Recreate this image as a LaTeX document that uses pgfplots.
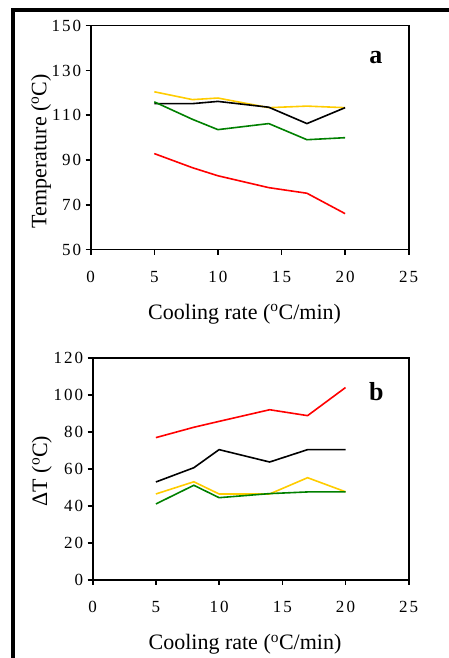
\documentclass[border=0pt]{standalone}
\usepackage{fontspec}
\setmainfont{Liberation Serif}
\usepackage{pgfplots}
\pgfplotsset{compat=1.18}
\definecolor{cyellow}{RGB}{255,204,0}
\definecolor{cgreen}{RGB}{0,128,0}
\definecolor{cred}{RGB}{255,0,0}
\pgfplotsset{common/.style={
  scale only axis,
  xmin=0,xmax=25,
  xtick={0,5,...,25},
  axis line style={line width=1.6pt},
  xtick pos=bottom, ytick pos=left,
  tick align=outside,
  major tick length=5pt,
  tick style={line width=1.6pt, black},
  /pgf/number format/assume math mode=true,
  tick label style={font=\fontsize{17}{17}\selectfont\addfontfeature{LetterSpace=12}},
  xticklabel style={yshift=-13pt},
  yticklabel style={xshift=-1pt},
  label style={font=\fontsize{22}{22}\selectfont},
  every axis plot/.append style={line width=1.6pt, no marks},
}}
\begin{document}
\begin{tikzpicture}
\useasboundingbox (0pt,0pt) rectangle (449pt,658pt);
\draw[line width=4pt] (13pt,0pt) -- (13pt,649.75pt);
\draw[line width=3.5pt] (11pt,648pt) -- (449pt,648pt);
% Panel a
\begin{axis}[common,
  at={(90.7pt,408.3pt)}, anchor=south west,
  width=318pt, height=224pt,
  ymin=50, ymax=150, ytick={50,70,...,150},
  xlabel={Cooling rate (\textsuperscript{o}C/min)},
  ylabel={Temperature (\textsuperscript{o}C)},
  xlabel style={at={(axis description cs:0.484,-0.311)}, anchor=base},
  ylabel style={at={(axis description cs:-0.156,0.44)}, anchor=center},
]
\addplot[cyellow] coordinates {(5,120.5) (8,117) (10,117.7) (14,113.4) (17,114.1) (20,113.4)};
\addplot[black] coordinates {(5,115.2) (8,115.2) (10,116.2) (14,113.6) (17,106.3) (20,113.4)};
\addplot[cgreen] coordinates {(5,116) (8,108.2) (10,103.6) (14,106.3) (17,99.1) (20,100)};
\addplot[cred] coordinates {(5,92.9) (8,86.6) (10,83) (14,77.7) (17,75.2) (20,66.1)};
\node[font=\bfseries\fontsize{26}{26}\selectfont, anchor=base] at (rel axis cs:0.897,0.833) {a};
\end{axis}
% Panel b
\begin{axis}[common,
  at={(92.7pt,78.3pt)}, anchor=south west,
  width=316pt, height=221.7pt,
  ymin=0, ymax=120, ytick={0,20,...,120},
  xlabel={Cooling rate (\textsuperscript{o}C/min)},
  ylabel={ΔT (\textsuperscript{o}C)},
  xlabel style={at={(axis description cs:0.482,-0.317)}, anchor=base},
  ylabel style={at={(axis description cs:-0.161,0.49)}, anchor=center},
]
\addplot[cred] coordinates {(5,76.9) (8,82.5) (10,85.7) (14,92) (17,88.8) (20,104)};
\addplot[black] coordinates {(5,52.9) (8,60.6) (10,70.4) (14,63.7) (17,70.4) (20,70.4)};
\addplot[cyellow] coordinates {(5,46.4) (8,53) (10,46.4) (14,46.4) (17,55.2) (20,47.6)};
\addplot[cgreen] coordinates {(5,41) (8,51.1) (10,44.4) (14,46.6) (17,47.5) (20,47.5)};
\node[font=\bfseries\fontsize{26}{26}\selectfont, anchor=base] at (rel axis cs:0.898,0.81) {b};
\end{axis}
\end{tikzpicture}
\end{document}
